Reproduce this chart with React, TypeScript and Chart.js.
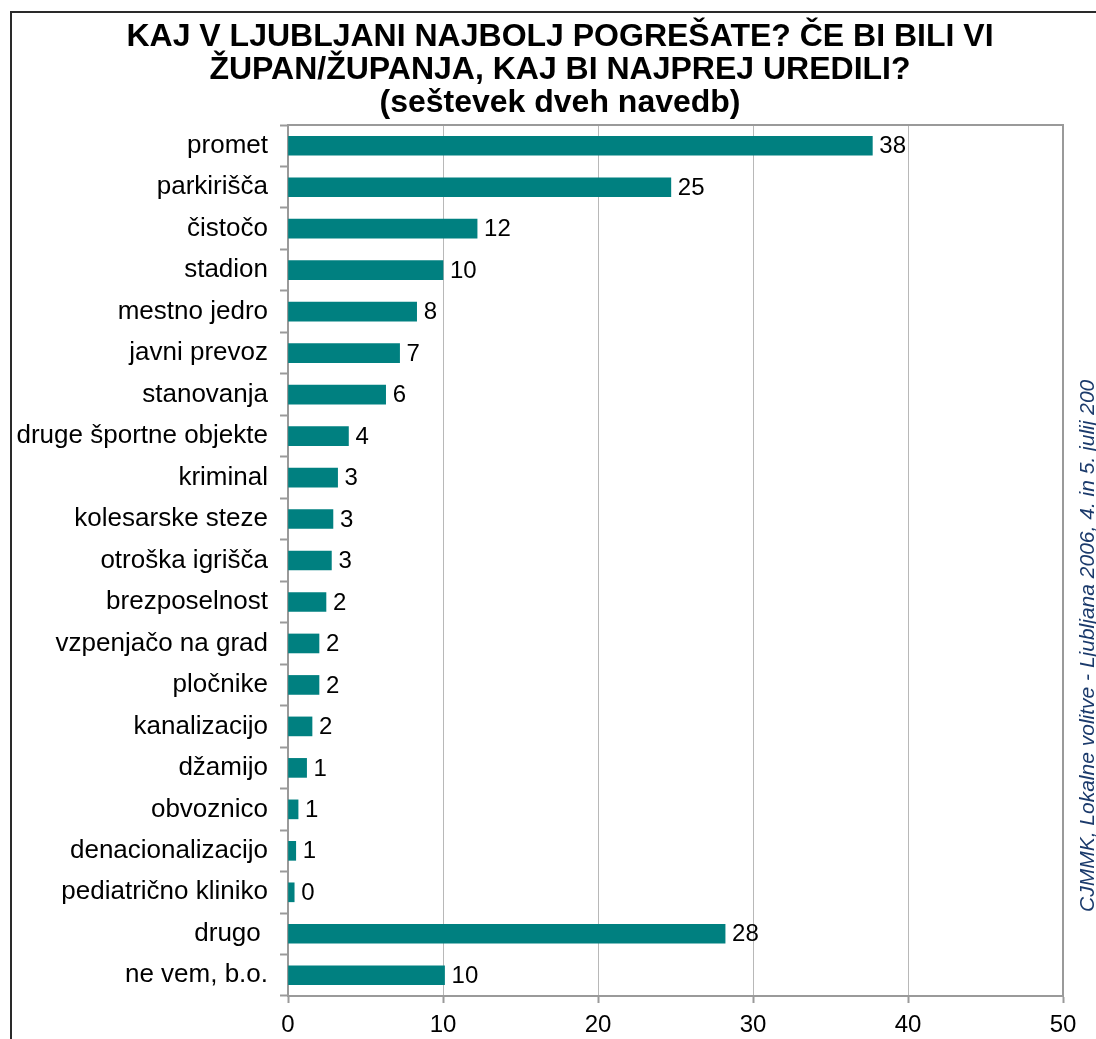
import React, { useEffect, useRef } from 'react';
import { Chart, registerables } from 'chart.js';

Chart.register(...registerables);

const titleLines = [
  'KAJ V LJUBLJANI NAJBOLJ POGREŠATE? ČE BI BILI VI',
  'ŽUPAN/ŽUPANJA, KAJ BI NAJPREJ UREDILI?',
  '(seštevek dveh navedb)',
];

const categories = [
  'promet',
  'parkirišča',
  'čistočo',
  'stadion',
  'mestno jedro',
  'javni prevoz',
  'stanovanja',
  'druge športne objekte',
  'kriminal',
  'kolesarske steze',
  'otroška igrišča',
  'brezposelnost',
  'vzpenjačo na grad',
  'pločnike',
  'kanalizacijo',
  'džamijo',
  'obvoznico',
  'denacionalizacijo',
  'pediatrično kliniko',
  'drugo ',
  'ne vem, b.o.',
];

const values = [
  37.7, 24.7, 12.2, 10.0, 8.3, 7.2, 6.3, 3.9, 3.2, 2.9, 2.8, 2.45, 2.0, 2.0, 1.55, 1.2, 0.65, 0.5, 0.4, 28.2, 10.1,
];

const valueLabels = [
  '38', '25', '12', '10', '8', '7', '6', '4', '3', '3', '3', '2', '2', '2', '2', '1', '1', '1', '0', '28', '10',
];

const xMin = 0;
const xMax = 50;
const xStep = 10;

const sourceNote = 'CJMMK, Lokalne volitve - Ljubljana 2006, 4. in 5. julij 200';

const FONT = "'Liberation Sans', Arial, sans-serif";
const BAR_COLOR = '#008080';
const AXIS_COLOR = '#9A9A9A';

const decorPlugin = {
  id: 'decor',
  afterLayout(chart: any) {
    const tb = chart.titleBlock;
    if (tb) {
      tb.left = 57;
      tb.right = 1063;
    }
  },
  beforeDraw(chart: any) {
    const ctx = chart.ctx;
    ctx.save();
    ctx.fillStyle = '#ffffff';
    ctx.fillRect(0, 0, chart.width, chart.height);
    ctx.strokeStyle = '#2a2a2a';
    ctx.lineWidth = 2;
    ctx.strokeRect(11, 12, chart.width + 50, chart.height + 50);
    ctx.restore();
  },
  afterDraw(chart: any) {
    const ctx = chart.ctx;
    const area = chart.chartArea;
    ctx.save();
    ctx.strokeStyle = AXIS_COLOR;
    ctx.lineWidth = 2;
    ctx.beginPath();
    ctx.moveTo(area.left, area.top);
    ctx.lineTo(area.right, area.top);
    ctx.lineTo(area.right, area.bottom);
    ctx.stroke();

    const meta = chart.getDatasetMeta(0);
    ctx.fillStyle = '#000000';
    ctx.font = `24px ${FONT}`;
    ctx.textAlign = 'left';
    ctx.textBaseline = 'middle';
    meta.data.forEach((bar: any, i: number) => {
      ctx.fillText(valueLabels[i], bar.x + 7, bar.y + 1);
    });

    ctx.translate(1094, 912);
    ctx.rotate(-Math.PI / 2);
    ctx.font = `italic 21px ${FONT}`;
    ctx.fillStyle = '#1B3A6B';
    ctx.textAlign = 'left';
    ctx.textBaseline = 'alphabetic';
    ctx.fillText(sourceNote, 0, 0);
    ctx.restore();
  },
};

export default function App() {
  const canvasRef = useRef<HTMLCanvasElement | null>(null);

  useEffect(() => {
    if (!canvasRef.current) return;
    const chart = new Chart(canvasRef.current, {
      type: 'bar',
      data: {
        labels: categories,
        datasets: [
          {
            data: values,
            backgroundColor: BAR_COLOR,
            borderWidth: 0,
            barThickness: 19,
          },
        ],
      },
      options: {
        indexAxis: 'y',
        responsive: false,
        animation: false,
        events: [],
        layout: { padding: { left: 10, right: 33, top: 10, bottom: 0 } },
        plugins: {
          legend: { display: false },
          tooltip: { enabled: false },
          title: {
            display: true,
            text: titleLines,
            color: '#000000',
            font: { family: FONT, size: 32, weight: 'bold', lineHeight: '33px' },
            padding: { top: 11, bottom: 5 },
          },
        },
        scales: {
          x: {
            type: 'linear',
            min: xMin,
            max: xMax,
            ticks: {
              stepSize: xStep,
              color: '#000000',
              font: { family: FONT, size: 24 },
              padding: 8,
            },
            grid: {
              color: '#B8B8B8',
              lineWidth: 1,
              borderDash: [2, 3],
              tickColor: AXIS_COLOR,
              tickBorderDash: [],
              tickLength: 7,
              tickWidth: 2,
            },
            border: { display: true, color: AXIS_COLOR, width: 2 },
            afterFit(scale: any) {
              scale.height = 43;
            },
          },
          y: {
            type: 'category',
            ticks: {
              color: '#000000',
              font: { family: FONT, size: 26 },
              padding: 12,
              autoSkip: false,
            },
            grid: {
              drawOnChartArea: false,
              drawTicks: true,
              tickLength: 8,
              tickColor: AXIS_COLOR,
              tickWidth: 2,
            },
            border: { display: true, color: AXIS_COLOR, width: 2 },
            afterFit(scale: any) {
              scale.width = 278;
            },
          },
        },
      },
      plugins: [decorPlugin],
    } as any);
    return () => chart.destroy();
  }, []);

  return (
    <div style={{ position: 'absolute', left: 0, top: 0, width: 1096, height: 1039 }}>
      <canvas ref={canvasRef} width={1096} height={1039} style={{ display: 'block' }} />
    </div>
  );
}
